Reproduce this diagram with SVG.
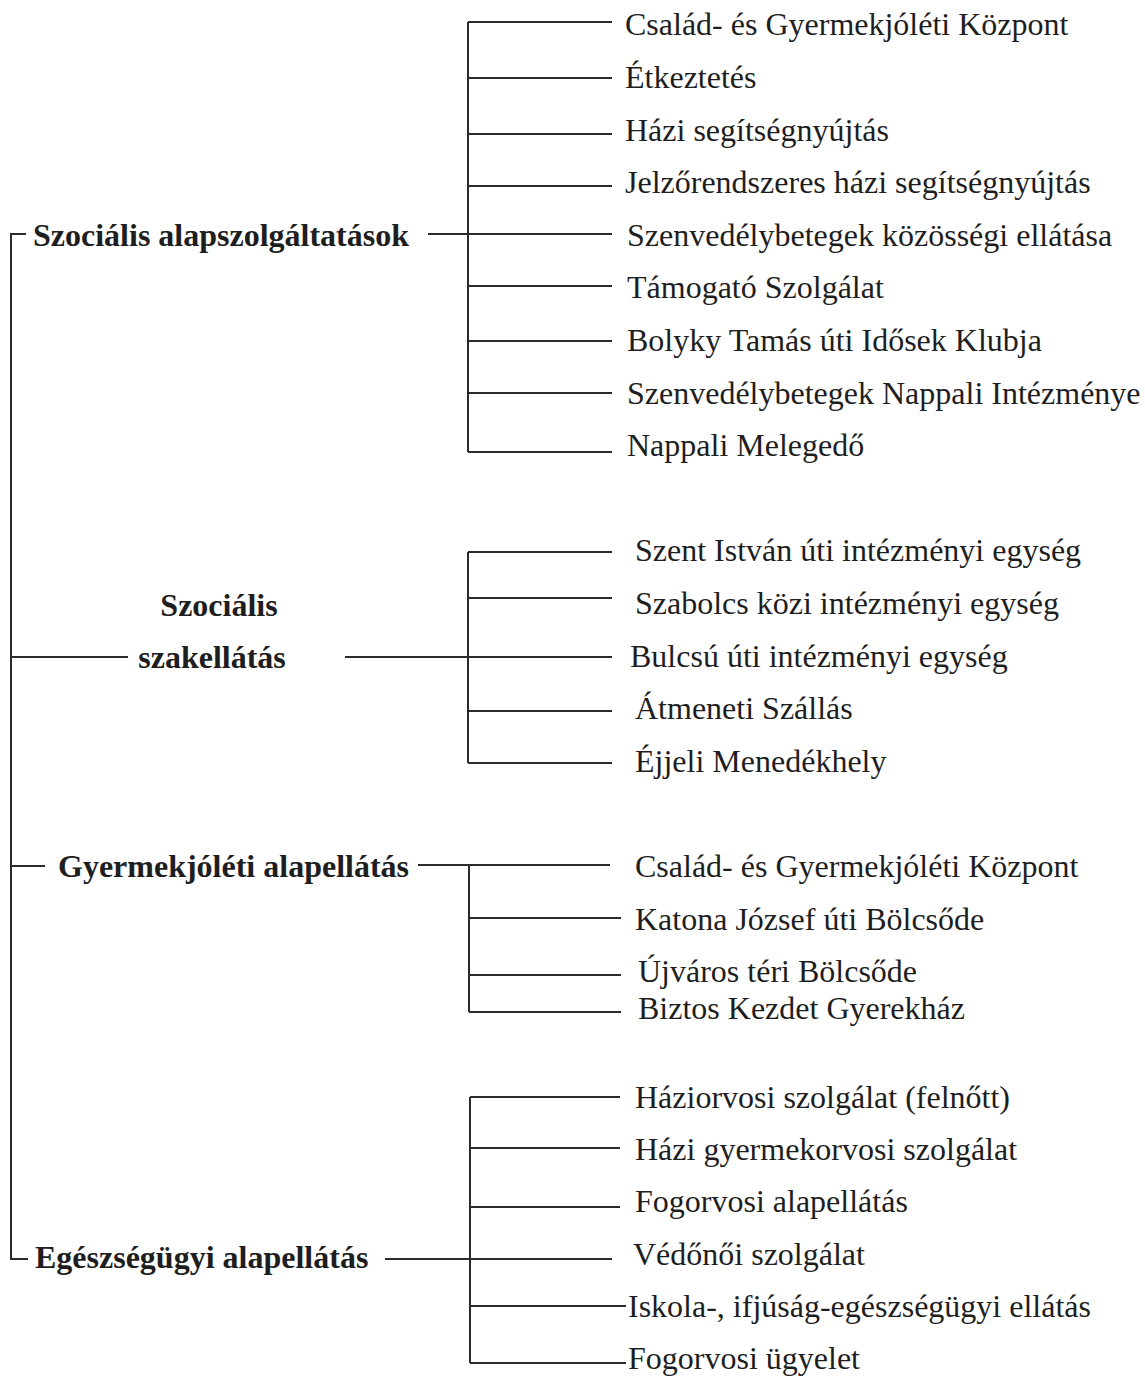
<svg xmlns="http://www.w3.org/2000/svg" width="1145" height="1377" viewBox="0 0 1145 1377">
<style>
  .ln { stroke: #2b2b2b; stroke-width: 2; fill: none; }
  .t { font-family: "Liberation Serif", "Times New Roman", serif; font-size: 32px; fill: #1e1e1e; }
  .b { font-family: "Liberation Serif", "Times New Roman", serif; font-size: 32px; font-weight: bold; fill: #1e1e1e; }
</style>
<rect width="1145" height="1377" fill="#ffffff"/>
<g id="connectors">
  <!-- main spine -->
  <path class="ln" d="M26,234 H11 V1259 H28"/>
  <line class="ln" x1="11" y1="657" x2="128" y2="657"/>
  <line class="ln" x1="11" y1="866" x2="45" y2="866"/>
  <!-- group 1 -->
  <line class="ln" x1="428" y1="234" x2="612" y2="234"/>
  <line class="ln" x1="468" y1="22" x2="468" y2="452"/>
  <line class="ln" x1="468" y1="22" x2="612" y2="22"/>
  <line class="ln" x1="468" y1="78" x2="612" y2="78"/>
  <line class="ln" x1="468" y1="134" x2="612" y2="134"/>
  <line class="ln" x1="468" y1="186" x2="612" y2="186"/>
  <line class="ln" x1="468" y1="286" x2="612" y2="286"/>
  <line class="ln" x1="468" y1="341" x2="612" y2="341"/>
  <line class="ln" x1="468" y1="393" x2="612" y2="393"/>
  <line class="ln" x1="468" y1="452" x2="612" y2="452"/>
  <!-- group 2 -->
  <line class="ln" x1="345" y1="657" x2="612" y2="657"/>
  <line class="ln" x1="468" y1="552" x2="468" y2="763"/>
  <line class="ln" x1="468" y1="552" x2="612" y2="552"/>
  <line class="ln" x1="468" y1="598" x2="612" y2="598"/>
  <line class="ln" x1="468" y1="711" x2="612" y2="711"/>
  <line class="ln" x1="468" y1="763" x2="612" y2="763"/>
  <!-- group 3 -->
  <line class="ln" x1="418" y1="865" x2="610" y2="865"/>
  <line class="ln" x1="469" y1="865" x2="469" y2="1012"/>
  <line class="ln" x1="469" y1="918" x2="621" y2="918"/>
  <line class="ln" x1="469" y1="975" x2="621" y2="975"/>
  <line class="ln" x1="469" y1="1012" x2="621" y2="1012"/>
  <!-- group 4 -->
  <line class="ln" x1="385" y1="1259" x2="612" y2="1259"/>
  <line class="ln" x1="470" y1="1097" x2="470" y2="1363"/>
  <line class="ln" x1="470" y1="1097" x2="620" y2="1097"/>
  <line class="ln" x1="470" y1="1148" x2="620" y2="1148"/>
  <line class="ln" x1="470" y1="1207" x2="620" y2="1207"/>
  <line class="ln" x1="470" y1="1306" x2="626" y2="1306"/>
  <line class="ln" x1="470" y1="1363" x2="626" y2="1363"/>
</g>
<g id="n-szoc-alap"><text class="b" x="33" y="246">Szociális alapszolgáltatások</text></g>
<g id="n-szoc-szak"><text class="b" x="219" y="616" text-anchor="middle">Szociális</text><text class="b" x="212" y="668" text-anchor="middle">szakellátás</text></g>
<g id="n-gyerm"><text class="b" x="58" y="877">Gyermekjóléti alapellátás</text></g>
<g id="n-egesz"><text class="b" x="35" y="1268">Egészségügyi alapellátás</text></g>
<g id="g1">
  <g id="n1-1"><text class="t" x="625" y="35">Család- és Gyermekjóléti Központ</text></g>
  <g id="n1-2"><text class="t" x="625" y="88">Étkeztetés</text></g>
  <g id="n1-3"><text class="t" x="625" y="141">Házi segítségnyújtás</text></g>
  <g id="n1-4"><text class="t" x="625" y="193">Jelzőrendszeres házi segítségnyújtás</text></g>
  <g id="n1-5"><text class="t" x="627" y="246">Szenvedélybetegek közösségi ellátása</text></g>
  <g id="n1-6"><text class="t" x="627" y="298">Támogató Szolgálat</text></g>
  <g id="n1-7"><text class="t" x="627" y="351">Bolyky Tamás úti Idősek Klubja</text></g>
  <g id="n1-8"><text class="t" x="627" y="404">Szenvedélybetegek Nappali Intézménye</text></g>
  <g id="n1-9"><text class="t" x="627" y="456">Nappali Melegedő</text></g>
</g>
<g id="g2">
  <g id="n2-1"><text class="t" x="635" y="561">Szent István úti intézményi egység</text></g>
  <g id="n2-2"><text class="t" x="635" y="614">Szabolcs közi intézményi egység</text></g>
  <g id="n2-3"><text class="t" x="630" y="667">Bulcsú úti intézményi egység</text></g>
  <g id="n2-4"><text class="t" x="635" y="719">Átmeneti Szállás</text></g>
  <g id="n2-5"><text class="t" x="635" y="772">Éjjeli Menedékhely</text></g>
</g>
<g id="g3">
  <g id="n3-1"><text class="t" x="635" y="877">Család- és Gyermekjóléti Központ</text></g>
  <g id="n3-2"><text class="t" x="635" y="930">Katona József úti Bölcsőde</text></g>
  <g id="n3-3"><text class="t" x="638" y="982">Újváros téri Bölcsőde</text></g>
  <g id="n3-4"><text class="t" x="638" y="1019">Biztos Kezdet Gyerekház</text></g>
</g>
<g id="g4">
  <g id="n4-1"><text class="t" x="635" y="1108">Háziorvosi szolgálat (felnőtt)</text></g>
  <g id="n4-2"><text class="t" x="635" y="1160">Házi gyermekorvosi szolgálat</text></g>
  <g id="n4-3"><text class="t" x="635" y="1212">Fogorvosi alapellátás</text></g>
  <g id="n4-4"><text class="t" x="633" y="1265">Védőnői szolgálat</text></g>
  <g id="n4-5"><text class="t" x="628" y="1317">Iskola-, ifjúság-egészségügyi ellátás</text></g>
  <g id="n4-6"><text class="t" x="628" y="1369">Fogorvosi ügyelet</text></g>
</g>
</svg>
